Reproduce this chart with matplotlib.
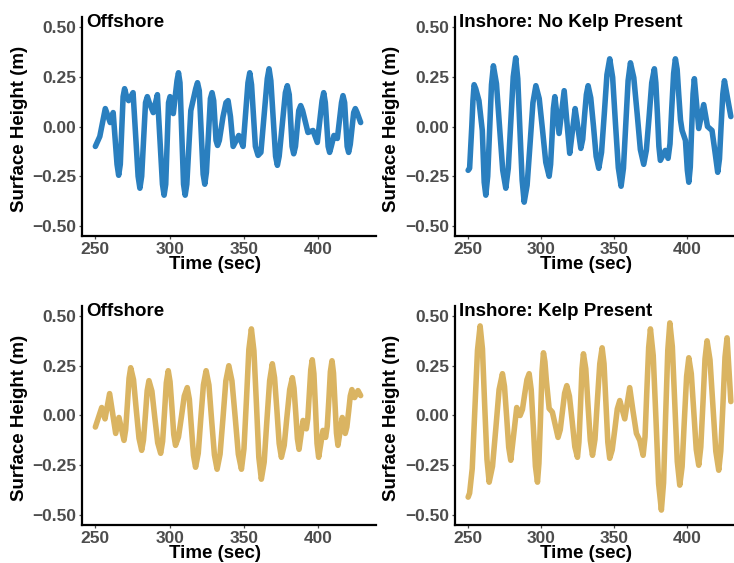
import matplotlib
matplotlib.use("Agg")
import matplotlib.pyplot as plt

plt.rcParams['font.family'] = ['Liberation Sans', 'DejaVu Sans']
plt.rcParams['font.weight'] = 'bold'

# values (time in sec, surface height in m)
off_nokelp_t = [250, 253, 256.7, 260, 262, 264.6, 265.7, 266.8, 268.7, 269.7, 270.7, 272.4, 275.4,
                278.8, 280, 281.2, 283.8, 285, 286.3, 289, 291.8, 295.2, 296.3, 297.4, 299.3,
                300.3, 302.5, 305, 306, 307, 309.4, 310.5, 311.6, 314.3, 317.6, 318.8, 320,
                322.6, 323.7, 324.8, 327.5, 328.6, 329.7, 331.3, 332.3, 333.5, 336, 338, 339.4,
                341, 342.8, 346.6, 349.5, 352.8, 354, 355.2, 357.8, 359.6, 361.5, 365.8, 367,
                368.2, 371.4, 372.6, 373.8, 378, 379.3, 380.6, 382.5, 383.6, 384.8, 387, 388.3,
                389.6, 393.2, 396.6, 399.5, 402.7, 403.8, 404.9, 406.8, 407.8, 408.9, 410.7,
                413, 415.8, 416.8, 417.9, 419.6, 420.6, 421.7, 424, 425.1, 426.3, 428.7]
off_nokelp_h = [-0.10, -0.05, 0.09, 0.02, 0.07, -0.19, -0.245, -0.19, 0.15, 0.19, 0.16, 0.13, 0.17,
                -0.25, -0.31, -0.25, 0.12, 0.15, 0.12, 0.07, 0.16, -0.29, -0.345, -0.29, 0.12,
                0.15, 0.065, 0.23, 0.27, 0.22, -0.29, -0.345, -0.29, 0.08, 0.19, 0.22, 0.18,
                -0.24, -0.29, -0.23, 0.14, 0.17, 0.13, -0.07, -0.095, -0.07, 0.05, 0.12, 0.13,
                0.05, -0.10, -0.045, -0.10, 0.22, 0.27, 0.21, -0.10, -0.145, -0.13, 0.24, 0.29,
                0.23, -0.15, -0.195, -0.15, 0.17, 0.205, 0.16, -0.10, -0.137, -0.10, 0.08, 0.105,
                0.08, -0.03, -0.02, -0.08, 0.13, 0.17, 0.12, -0.10, -0.13, -0.10, -0.045,
                -0.06, 0.12, 0.155, 0.12, -0.10, -0.13, -0.09, 0.07, 0.09, 0.07, 0.02]

in_nokelp_t = [250, 251, 252.5, 253.3, 254.1, 255.2, 257.4, 259.7, 261, 262.1, 263.4, 264.7, 266,
               267.3, 269.4, 271.5, 273.7, 275.8, 277.5, 279.2, 280.9, 282.6, 284, 285.5, 287,
               288.4, 290.4, 292.4, 294.4, 296.4, 298.7, 301, 303.2, 305.5, 306.5, 307.5, 308.4,
               309.4, 312.3, 315.8, 317.7, 319.6, 321.5, 323.3, 325.3, 327.2, 328.5, 329.7, 331,
               332.2, 334, 335.9, 337.7, 339.5, 341.4, 343.3, 345.1, 347, 349, 350.9, 352.9,
               354.8, 356.4, 358, 359.6, 361.2, 363.5, 365.8, 368, 370.3, 372.1, 374, 375.8,
               377.6, 378.6, 379.7, 380.7, 381.7, 385.1, 387, 388.3, 389.5, 390.8, 392, 393.2,
               394.3, 395.5, 396.6, 398.9, 400.2, 401.2, 402.2, 403.1, 404.1, 405, 406.5, 408,
               411.4, 414, 417.1, 419, 421, 422.2, 423.3, 424.5, 425.6, 427.8, 430]
in_nokelp_h = [-0.22, -0.21, 0.0, 0.13, 0.21, 0.19, 0.13, -0.02, -0.28, -0.345, -0.25, -0.02, 0.21,
               0.305, 0.215, 0.0, -0.22, -0.31, -0.21, 0.02, 0.25, 0.345, 0.24, -0.02, -0.27,
               -0.38, -0.295, -0.09, 0.12, 0.205, 0.14, -0.02, -0.18, -0.25, -0.19, -0.05, 0.09,
               0.15, -0.035, 0.18, 0.02, -0.135, -0.02, 0.09, -0.01, -0.11, -0.064, 0.05, 0.16,
               0.205, 0.144, 0.0, -0.15, -0.21, -0.13, 0.065, 0.26, 0.34, 0.247, 0.02, -0.207,
               -0.30, -0.21, 0.01, 0.23, 0.32, 0.245, 0.065, -0.116, -0.19, -0.12, 0.05, 0.22,
               0.29, 0.22, 0.06, -0.10, -0.17, -0.12, -0.16, -0.087, 0.09, 0.267, 0.34, 0.287,
               0.16, 0.033, -0.02, -0.07, -0.22, -0.28, -0.204, -0.02, 0.164, 0.24, 0.115, -0.01,
               0.11, 0.0, -0.02, -0.12, -0.23, -0.163, 0.0, 0.163, 0.23, 0.14, 0.05]

off_kelp_t = [250, 254.3, 256.5, 259.6, 263.7, 265.9, 269.3, 270.4, 271.6, 272.7, 273.8, 275.7,
              277.5, 279.4, 281.2, 282.4, 283.7, 284.9, 286.1, 288.1, 290, 292, 294, 295.3, 296.6,
              297.8, 299.1, 300.3, 301.6, 302.8, 304, 306, 308, 309.9, 311.9, 313.3, 314.7, 316.1,
              317.5, 319.3, 321, 322.8, 324.6, 326.5, 328.3, 330.2, 332, 334, 336, 337.9, 339.9,
              342, 344.2, 346.3, 348.4, 350.1, 351.8, 353.4, 355.1, 356.8, 358.5, 360.1, 361.8,
              363.7, 365.5, 367.4, 369.2, 370.7, 372.3, 373.8, 375.3, 377.2, 379, 380.9, 382.7,
              383.8, 385, 386.1, 387.2, 389.9, 392.1, 393.1, 394.1, 395.1, 396.1, 397.2, 398.3,
              399.3, 400.4, 403.3, 405.1, 406.2, 407.3, 408.3, 409.4, 410.4, 411.4, 412.4, 413.4,
              416.3, 418.3, 419.4, 420.6, 421.7, 422.8, 424.6, 426.9, 428.7]
off_kelp_h = [-0.058, 0.04, -0.017, 0.11, -0.09, -0.01, -0.125, -0.072, 0.058, 0.187, 0.24, 0.18,
              0.033, -0.114, -0.175, -0.124, 0.0, 0.124, 0.175, 0.122, -0.008, -0.137, -0.19, -0.13,
              0.018, 0.164, 0.225, 0.17, 0.038, -0.095, -0.15, -0.108, -0.005, 0.098, 0.14, 0.082,
              -0.06, -0.20, -0.26, -0.19, -0.018, 0.154, 0.225, 0.153, -0.022, -0.198, -0.27,
              -0.194, -0.01, 0.174, 0.25, 0.174, -0.01, -0.194, -0.27, -0.167, 0.083, 0.332, 0.435,
              0.325, 0.058, -0.21, -0.32, -0.235, -0.03, 0.175, 0.26, 0.19, 0.025, -0.14, -0.21,
              -0.15, -0.01, 0.13, 0.19, 0.137, 0.01, -0.117, -0.17, -0.025, -0.067, -0.016, 0.107,
              0.23, 0.28, 0.21, 0.035, -0.14, -0.21, -0.075, -0.11, -0.054, 0.083, 0.22, 0.275,
              0.213, 0.063, -0.088, -0.15, -0.01, -0.09, -0.058, 0.02, 0.098, 0.13, 0.09, 0.125,
              0.10]

in_kelp_t = [250, 251, 252.8, 254.6, 256.4, 258.2, 259.8, 261.3, 262.9, 264.4, 266.7, 269, 271.2,
             273.5, 274.9, 276.4, 277.8, 279.2, 281.3, 283.3, 285.6, 287.2, 288.7, 290.3, 291.8,
             293.2, 294.7, 296.1, 297.5, 298.5, 299.6, 300.6, 301.6, 302.6, 303.6, 305.5, 307.7,
             311.6, 313.1, 314.6, 316.1, 317.6, 319.4, 321.3, 323.1, 324.9, 325.9, 327, 328, 329,
             330.6, 332.1, 333.7, 335.2, 336.9, 338.5, 340.2, 341.8, 343.1, 344.4, 345.7, 347,
             348.7, 350.5, 352.2, 353.9, 357.3, 360.7, 362.9, 365.3, 367.6, 369.9, 371.2, 372.4,
             373.7, 374.9, 376.8, 378.7, 380.5, 382.4, 383.9, 385.3, 386.8, 388.2, 389.9, 391.6,
             393.3, 395, 396.6, 398.1, 399.7, 401.2, 402.9, 404.6, 406.3, 408, 409.4, 410.9,
             412.3, 413.7, 415.7, 417.7, 419.7, 421.7, 423.1, 424.6, 426, 427.4, 428.7, 430]
in_kelp_h = [-0.41, -0.39, -0.267, 0.03, 0.327, 0.45, 0.335, 0.057, -0.22, -0.335, -0.255, -0.062,
             0.13, 0.21, 0.146, -0.008, -0.16, -0.225, -0.09, 0.04, 0.0, 0.03, 0.105, 0.18, 0.21,
             0.13, -0.062, -0.255, -0.335, -0.24, -0.01, 0.22, 0.315, 0.27, 0.175, 0.035, 0.017,
             -0.11, -0.072, 0.02, 0.112, 0.15, 0.097, -0.03, -0.157, -0.21, -0.134, 0.05, 0.234,
             0.31, 0.235, 0.055, -0.125, -0.20, -0.12, 0.07, 0.26, 0.34, 0.26, 0.063, -0.134,
             -0.215, -0.173, -0.07, 0.033, 0.075, -0.017, 0.14, 0.025, -0.09, -0.125, -0.20,
             -0.107, 0.118, 0.342, 0.435, 0.302, -0.02, -0.342, -0.475, -0.338, -0.005, 0.328,
             0.465, 0.346, 0.058, -0.231, -0.35, -0.257, -0.03, 0.197, 0.29, 0.21, 0.02, -0.171,
             -0.25, -0.159, 0.063, 0.284, 0.375, 0.28, 0.05, -0.18, -0.275, -0.178, 0.058, 0.293,
             0.39, 0.23, 0.07]

panel_titles = ["Offshore", "Inshore: No Kelp Present", "Offshore", "Inshore: Kelp Present"]
x_ticks = [250, 300, 350, 400]
y_ticks = [-0.5, -0.25, 0, 0.25, 0.5]
y_tick_labels = ["\u22120.50", "\u22120.25", "0.00", "0.25", "0.50"]

blue = "#2A7FBF"
gold = "#DAB462"
grey = "#4D4D4D"

fig = plt.figure(figsize=(7.34, 5.63), dpi=100)

panels = [
    ([0.1117, 0.5808, 0.4005, 0.389], off_nokelp_t, off_nokelp_h, blue, -0.211),
    ([0.6199, 0.5808, 0.3937, 0.389], in_nokelp_t, in_nokelp_h, blue, -0.219),
    ([0.1117, 0.0675, 0.4005, 0.389], off_kelp_t, off_kelp_h, gold, -0.211),
    ([0.6199, 0.0675, 0.3937, 0.389], in_kelp_t, in_kelp_h, gold, -0.219),
]

for (rect, t, h, col, ylab_x), title in zip(panels, panel_titles):
    ax = fig.add_axes(rect)
    ax.plot(t, h, color=col, lw=4.0, solid_joinstyle='round', solid_capstyle='round')
    ax.set_xlim(241, 439)
    ax.set_ylim(-0.55, 0.55)
    ax.set_xticks(x_ticks)
    ax.set_yticks(y_ticks)
    ax.set_yticklabels(y_tick_labels)
    for s in ["top", "right"]:
        ax.spines[s].set_visible(False)
    for s in ["left", "bottom"]:
        ax.spines[s].set_linewidth(1.6)
        ax.spines[s].set_color("black")
    ax.tick_params(axis="both", length=2.5, width=0.9, color=grey, labelcolor=grey,
                   labelsize=12.5, pad=1.5)
    for lab in ax.get_xticklabels() + ax.get_yticklabels():
        lab.set_fontweight("bold")
    ax.set_xlabel("Time (sec)", fontsize=13.5, fontweight="bold", va="center")
    ax.xaxis.set_label_coords(0.452, -0.13)
    ax.set_ylabel("Surface Height (m)", fontsize=13.5, fontweight="bold", va="center")
    ax.yaxis.set_label_coords(ylab_x, 0.49)
    ax.text(0.015, 0.975, title, transform=ax.transAxes, fontsize=13.5,
            fontweight="bold", ha="left", va="center", color="black")

fig.savefig("out.png", dpi=100)
